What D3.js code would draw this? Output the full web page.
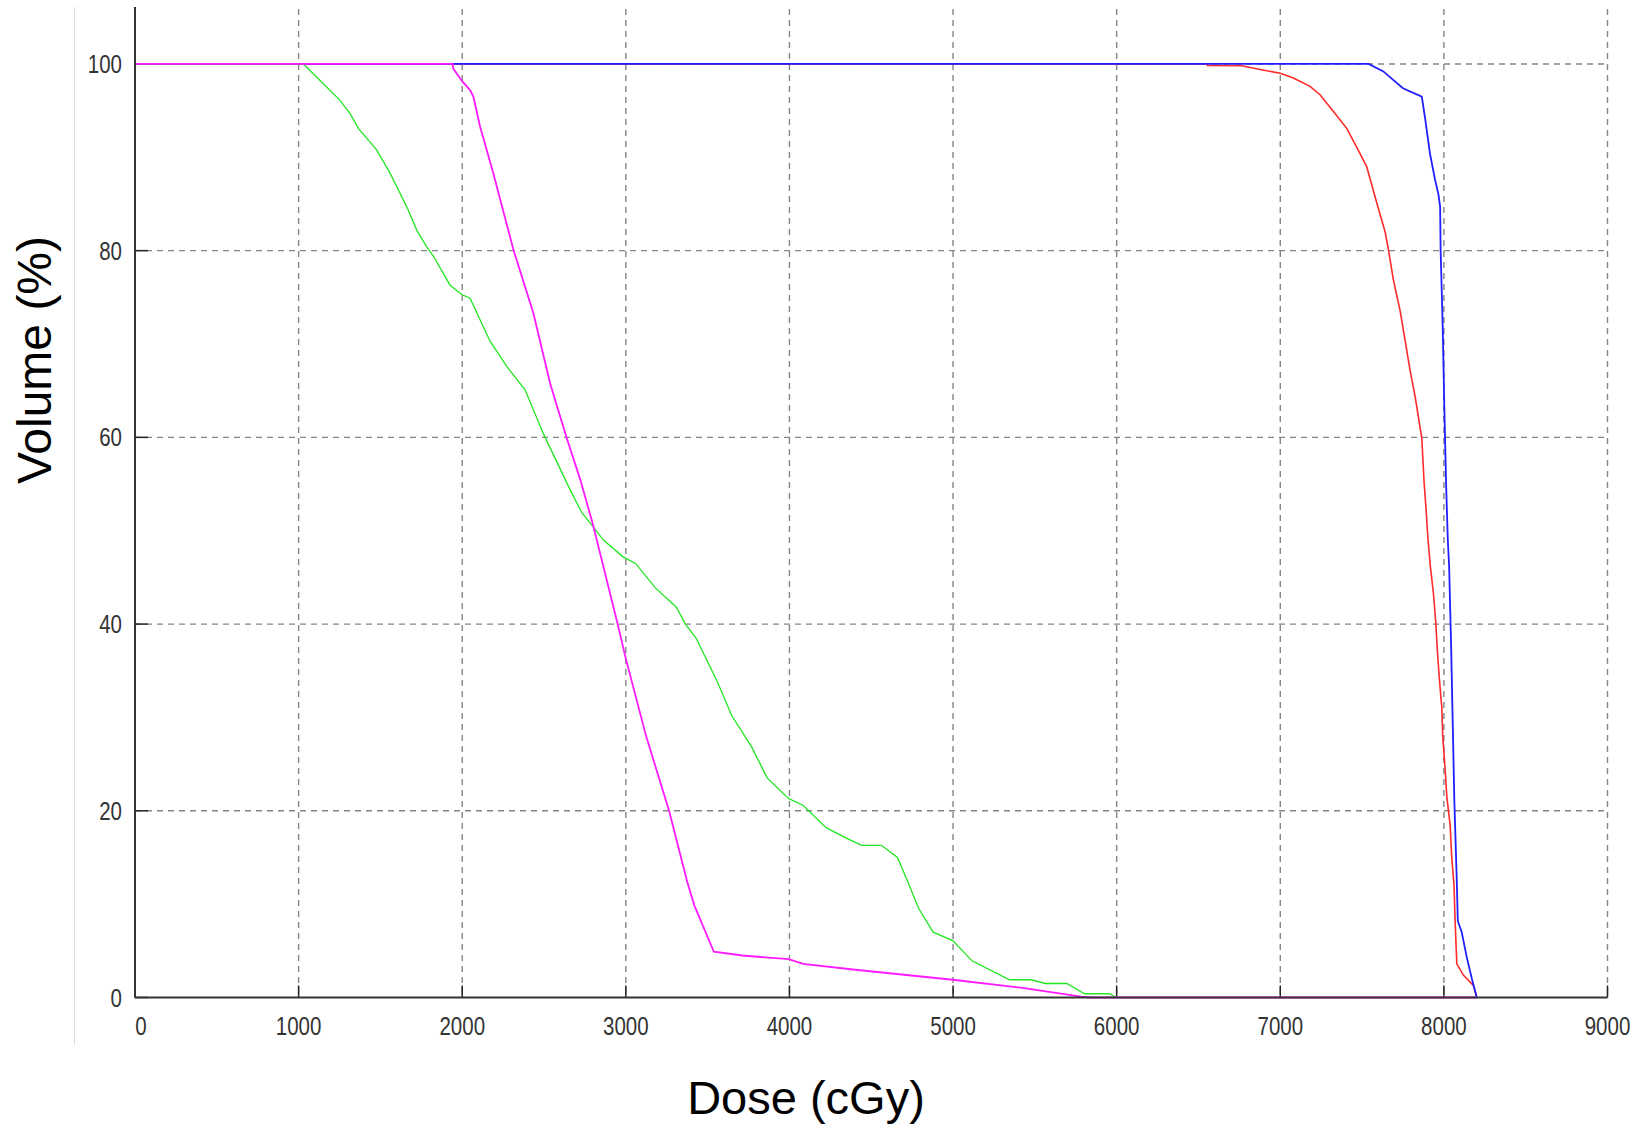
<!DOCTYPE html>
<html>
<head>
<meta charset="utf-8">
<script src="https://cdn.jsdelivr.net/npm/d3@7"></script>
<style>
body { margin: 0; background: #fff; }
</style>
</head>
<body>
<div id="chart"></div>
<script>
let xTicks = [0, 1000, 2000, 3000, 4000, 5000, 6000, 7000, 8000, 9000];
let yTicks = [0, 20, 40, 60, 80, 100];

let blueDose = [0, 7540, 7630, 7690, 7750, 7865, 7885, 7915, 7946, 7967, 7977, 7980, 7993, 8003, 8014, 8024, 8032, 8044, 8054, 8064, 8079, 8085, 8109, 8140, 8171, 8201];
let blueVol = [100, 100, 99.2, 98.3, 97.4, 96.5, 94.2, 90.4, 87.6, 86.0, 84.7, 80.1, 71.7, 62.9, 54.7, 49.0, 46.2, 37.8, 29.4, 21.0, 12.4, 8.2, 7.0, 4.3, 2.0, 0];

let redDose = [0, 6550, 6555, 6765, 6877, 7000, 7080, 7182, 7243, 7325, 7406, 7467, 7528, 7590, 7641, 7661, 7691, 7732, 7763, 7793, 7824, 7865, 7879, 7891, 7902, 7916, 7936, 7950, 7960, 7972, 7987, 7993, 8007, 8018, 8038, 8048, 8062, 8068, 8079, 8119, 8180, 8201];
let redVol = [100, 100, 99.85, 99.8, 99.4, 99.0, 98.5, 97.6, 96.7, 94.9, 93.1, 91.1, 89.0, 85.1, 82.0, 80.1, 76.9, 73.6, 70.4, 67.2, 64.4, 59.9, 55.2, 52.3, 49.3, 46.4, 43.3, 40.3, 37.2, 34.2, 31.1, 28.0, 24.6, 21.5, 18.5, 15.0, 12.0, 8.5, 3.6, 2.4, 1.3, 0];

let greenDose = [0, 1029, 1253, 1314, 1365, 1477, 1559, 1661, 1722, 1783, 1824, 1926, 1997, 2048, 2170, 2272, 2384, 2496, 2659, 2732, 2797, 2863, 2983, 3059, 3179, 3309, 3364, 3429, 3560, 3647, 3767, 3865, 3996, 4083, 4224, 4344, 4442, 4562, 4660, 4704, 4791, 4878, 4998, 5118, 5346, 5477, 5564, 5695, 5804, 5956, 6000];
let greenVol = [100, 100, 96.1, 94.7, 93.1, 90.8, 88.3, 84.7, 82.2, 80.4, 79.4, 76.3, 75.3, 74.9, 70.3, 67.6, 65.1, 60.4, 54.4, 51.9, 50.5, 49.0, 47.2, 46.5, 43.9, 41.8, 40.0, 38.5, 33.8, 30.2, 26.9, 23.5, 21.3, 20.6, 18.2, 17.1, 16.3, 16.3, 15.0, 13.2, 9.5, 7.0, 6.1, 3.9, 1.9, 1.9, 1.5, 1.5, 0.4, 0.4, 0];

let magentaDose = [0, 1941, 1945, 2002, 2048, 2068, 2109, 2190, 2313, 2435, 2537, 2639, 2721, 2797, 2950, 3000, 3124, 3266, 3375, 3418, 3538, 3712, 3996, 4083, 4388, 4998, 5434, 5782, 5847, 8201];
let magentaVol = [100, 100, 99.5, 98.1, 97.2, 96.5, 93.3, 88.3, 80.1, 73.3, 65.8, 59.9, 55.5, 50.8, 40, 36.3, 28.0, 19.9, 12.4, 9.9, 4.9, 4.5, 4.1, 3.6, 3.0, 1.9, 1.0, 0.1, 0, 0];

// drawing order matters: magenta sits on top along 100 and 0
let series = [
    { dose: redDose, vol: redVol, color: "#ff2a2a", width: 1.6 },
    { dose: blueDose, vol: blueVol, color: "#1f1fff", width: 1.8 },
    { dose: greenDose, vol: greenVol, color: "#22e622", width: 1.3 },
    { dose: magentaDose, vol: magentaVol, color: "#ff1aff", width: 1.8 }
];

let width = 1641, height = 1124;
let plotLeft = 135, plotRight = 1607.5, plotBottom = 997.5, plotTop = 7;

let svg = d3.select("#chart").append("svg")
    .attr("width", width)
    .attr("height", height);

let x = d3.scaleLinear().domain([0, 9000]).range([plotLeft, plotRight]);
let y = d3.scaleLinear().domain([0, 106.1]).range([plotBottom, plotTop]);

// faint frame line on the far left
svg.append("line")
    .attr("x1", 74.5).attr("x2", 74.5)
    .attr("y1", plotTop).attr("y2", 1045)
    .attr("stroke", "#dcdcdc")
    .attr("stroke-width", 1);

// dashed grid
svg.selectAll(".vgrid")
    .data(xTicks.slice(1))
    .enter().append("line")
    .attr("class", "vgrid")
    .attr("x1", d => x(d)).attr("x2", d => x(d))
    .attr("y1", plotTop + 2).attr("y2", plotBottom)
    .attr("stroke", "#858585")
    .attr("stroke-width", 1.4)
    .attr("stroke-dasharray", "6,5");

svg.selectAll(".hgrid")
    .data(yTicks.slice(1))
    .enter().append("line")
    .attr("class", "hgrid")
    .attr("x1", plotLeft).attr("x2", plotRight)
    .attr("y1", d => y(d)).attr("y2", d => y(d))
    .attr("stroke", "#858585")
    .attr("stroke-width", 1.4)
    .attr("stroke-dasharray", "6,5");

// inward tick marks
svg.selectAll(".xtick")
    .data(xTicks)
    .enter().append("line")
    .attr("class", "xtick")
    .attr("x1", d => x(d)).attr("x2", d => x(d))
    .attr("y1", plotBottom).attr("y2", plotBottom - 12)
    .attr("stroke", "#222")
    .attr("stroke-width", 1.5);

svg.selectAll(".ytick")
    .data(yTicks)
    .enter().append("line")
    .attr("class", "ytick")
    .attr("x1", plotLeft).attr("x2", plotLeft + 13)
    .attr("y1", d => y(d)).attr("y2", d => y(d))
    .attr("stroke", "#222")
    .attr("stroke-width", 1.5);

// curves
let line = d3.line()
    .x(d => x(d[0]))
    .y(d => y(d[1]));

series.forEach(s => {
    let pts = s.dose.map((d, i) => [d, s.vol[i]]);
    svg.append("path")
        .datum(pts)
        .attr("d", line)
        .attr("fill", "none")
        .attr("stroke", s.color)
        .attr("stroke-width", s.width)
        .attr("stroke-linejoin", "miter");
});

// axes
svg.append("line")
    .attr("x1", plotLeft).attr("x2", plotRight)
    .attr("y1", plotBottom).attr("y2", plotBottom)
    .attr("stroke", "#333")
    .attr("stroke-width", 2);
svg.append("line")
    .attr("x1", plotLeft).attr("x2", plotLeft)
    .attr("y1", plotTop).attr("y2", plotBottom)
    .attr("stroke", "#333")
    .attr("stroke-width", 2);

// tick labels, squeezed horizontally to mimic the narrow bitmap font
let tickFont = "'Liberation Sans', Arial, sans-serif";

svg.selectAll(".xlabel")
    .data(xTicks)
    .enter().append("text")
    .attr("class", "xlabel")
    .attr("transform", d => `translate(${x(d) + (d === 0 ? 6 : 0)},${plotBottom + 37}) scale(0.82,1)`)
    .attr("text-anchor", "middle")
    .attr("font-family", tickFont)
    .attr("font-size", 25)
    .attr("fill", "#333")
    .text(d => d);

svg.selectAll(".ylabel")
    .data(yTicks)
    .enter().append("text")
    .attr("class", "ylabel")
    .attr("transform", d => `translate(${plotLeft - 13},${y(d) + 9}) scale(0.82,1)`)
    .attr("text-anchor", "end")
    .attr("font-family", tickFont)
    .attr("font-size", 25)
    .attr("fill", "#333")
    .text(d => d);

// axis titles
svg.append("text")
    .attr("x", 806)
    .attr("y", 1114)
    .attr("text-anchor", "middle")
    .attr("font-family", "'Liberation Sans', Arial, sans-serif")
    .attr("font-size", 47)
    .attr("fill", "#000")
    .text("Dose (cGy)");

svg.append("text")
    .attr("transform", "translate(51,360) rotate(-90)")
    .attr("text-anchor", "middle")
    .attr("font-family", "'Liberation Sans', Arial, sans-serif")
    .attr("font-size", 48)
    .attr("fill", "#000")
    .text("Volume (%)");
</script>
</body>
</html>
